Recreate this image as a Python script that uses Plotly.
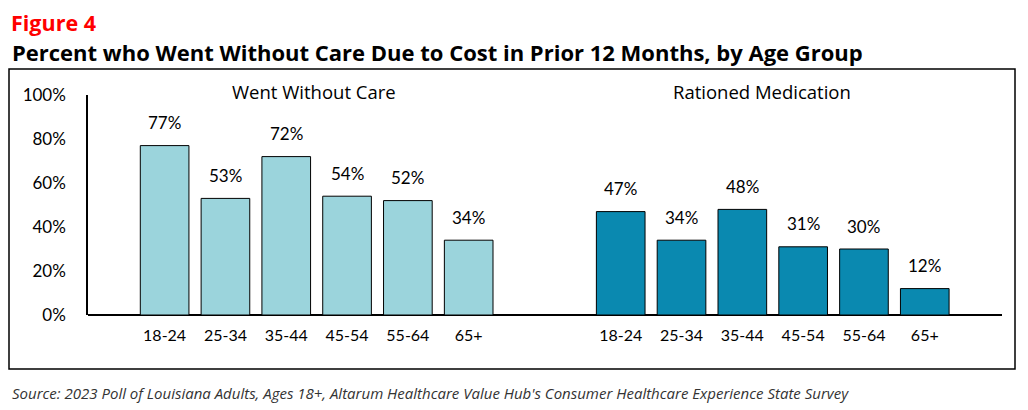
import plotly.graph_objects as go

# data
age_groups = ["18-24", "25-34", "35-44", "45-54", "55-64", "65+"]
went_without_care = [77, 53, 72, 54, 52, 34]
rationed_medication = [47, 34, 48, 31, 30, 12]
y_ticks = [0, 20, 40, 60, 80, 100]

# page body has an 8px margin, so work in screen pixels and shift by OFF
OFF = 8
W, H = 1028 - OFF, 410 - OFF
L, R, T, B = 88 - OFF, 34 - OFF, 95 - OFF, 95
NUM_FONT = "Lato"
TXT_FONT = "Open Sans"


def px_x(p):
    # screen pixel -> paper x
    return (p - OFF - L) / (W - L - R)


def px_y(p):
    # screen pixel -> paper y
    return (H - B - (p - OFF)) / (H - T - B)


gap = 7.5
x_left = list(range(len(age_groups)))
x_right = [i + gap for i in x_left]

fig = go.Figure()
fig.add_trace(go.Bar(x=x_left, y=went_without_care, width=0.8,
        marker=dict(color="#9BD4DC", line=dict(color="black", width=1)),
        name="Went Without Care"))
fig.add_trace(go.Bar(x=x_right, y=rationed_medication, width=0.8,
        marker=dict(color="#0A89B0", line=dict(color="black", width=1)),
        name="Rationed Medication"))

# value labels above bars
for xs, ys in ((x_left, went_without_care), (x_right, rationed_medication)):
    for x, y in zip(xs, ys):
        fig.add_annotation(x=x, y=y, text=f"{y}%", showarrow=False,
                yanchor="middle", yshift=23,
                font=dict(family=NUM_FONT, size=17, color="black"))

# group headers
fig.add_annotation(x=2.45, y=px_y(91), yref="paper", yanchor="middle",
        text="Went Without Care", showarrow=False,
        font=dict(family=TXT_FONT, size=18.5, color="black"))
fig.add_annotation(x=9.83, y=px_y(91), yref="paper", yanchor="middle",
        text="Rationed Medication", showarrow=False,
        font=dict(family=TXT_FONT, size=18.5, color="black"))

# titles and source
fig.add_annotation(x=px_x(10), y=px_y(22.5), xref="paper", yref="paper",
        xanchor="left", yanchor="middle", text="<b>Figure 4</b>",
        borderpad=0, showarrow=False,
        font=dict(family=TXT_FONT, size=21.5, color="#FF0000"))
fig.add_annotation(x=px_x(10), y=px_y(52), xref="paper", yref="paper",
        xanchor="left", yanchor="middle", showarrow=False,
        text="<b>Percent who Went Without Care Due to Cost in Prior 12 Months, by Age Group</b>",
        font=dict(family=TXT_FONT, size=22, color="black"))
fig.add_annotation(x=px_x(10), y=px_y(393), xref="paper", yref="paper",
        xanchor="left", yanchor="middle", showarrow=False,
        text="<i>Source: 2023 Poll of Louisiana Adults, Ages 18+, Altarum Healthcare Value Hub's Consumer Healthcare Experience State Survey</i>",
        font=dict(family=TXT_FONT, size=15, color="#333333"))

# frame around the chart
fig.add_shape(type="rect", xref="paper", yref="paper",
        x0=px_x(9), x1=px_x(1015), y0=px_y(369), y1=px_y(69),
        line=dict(color="black", width=1.5))

fig.update_layout(
    width=W, height=H, margin=dict(l=L, r=R, t=T, b=B),
    plot_bgcolor="white", paper_bgcolor="white", showlegend=False,
    font=dict(family=NUM_FONT, size=16, color="black"),
    xaxis=dict(range=[-1.26, 13.77], tickvals=x_left + x_right,
            ticktext=age_groups + age_groups, showgrid=False, zeroline=False,
            showline=False, ticks="", ticklabelstandoff=9,
            tickfont=dict(family=NUM_FONT, size=16)),
    yaxis=dict(range=[0, 100], tickvals=y_ticks,
            ticktext=[f"{v}%" for v in y_ticks], showgrid=False,
            zeroline=True, zerolinecolor="black", zerolinewidth=1.5,
            showline=True, linecolor="black", linewidth=1.5, ticks="",
            ticklabelstandoff=17, tickfont=dict(family=NUM_FONT, size=17)),
)

fig.write_html("out.html")
